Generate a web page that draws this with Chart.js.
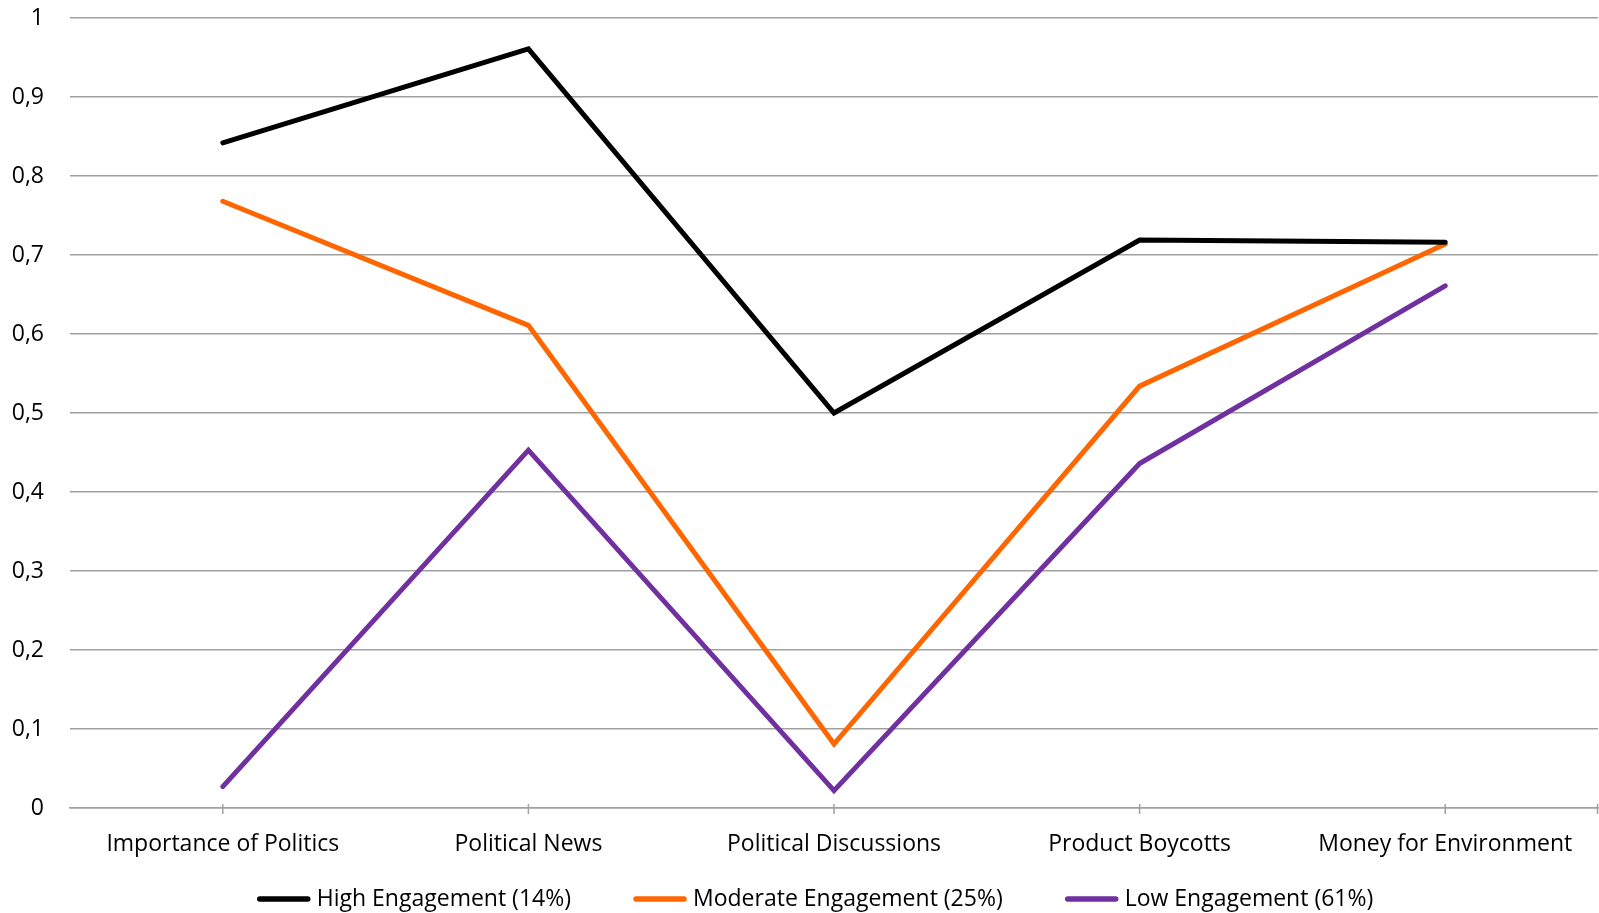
<!DOCTYPE html>
<html>
<head>
<meta charset="utf-8">
<script src="https://cdn.jsdelivr.net/npm/chart.js@4.4.1/dist/chart.umd.min.js"></script>
<style>
  html, body { margin: 0; padding: 0; background: #ffffff; }
  #wrap { width: 1599px; height: 913px; position: relative; }
</style>
</head>
<body>
<div id="wrap"><canvas id="chart"></canvas></div>
<script>
// Categories along the x axis
const categories = [
  'Importance of Politics',
  'Political News',
  'Political Discussions',
  'Product Boycotts',
  'Money for Environment'
];

// Series names
const seriesLabels = [
  'High Engagement (14%)',
  'Moderate Engagement (25%)',
  'Low Engagement (61%)'
];

// Series values
const highEngagement     = [0.842, 0.961, 0.500, 0.719, 0.716];
const moderateEngagement = [0.768, 0.611, 0.081, 0.534, 0.714];
const lowEngagement      = [0.027, 0.453, 0.022, 0.436, 0.661];

// Value axis range and step
const yMin = 0;
const yMax = 1;
const yStep = 0.1;

const seriesColors = ['#000000', '#FF6600', '#7030A0'];
const FONT = '"Open Sans", Lato, sans-serif';
const FONT_SIZE = 23;
const GRID = '#a0a0a0';

// Tick marks on the category axis: one at each category plus the right edge
const categoryTicks = {
  id: 'categoryTicks',
  afterDraw(chart) {
    const { ctx, chartArea } = chart;
    const x = chart.scales.x;
    const y0 = chartArea.bottom;
    ctx.save();
    ctx.strokeStyle = GRID;
    ctx.lineWidth = 1.5;
    ctx.beginPath();
    const xs = categories.map((_, i) => x.getPixelForValue(i));
    xs.push(chartArea.right - 0.5);
    xs.forEach(px => {
      ctx.moveTo(px, y0 - 4);
      ctx.lineTo(px, y0 + 6);
    });
    ctx.stroke();
    ctx.restore();
  }
};

// Legend row drawn under the category labels
const bottomLegend = {
  id: 'bottomLegend',
  afterDraw(chart) {
    const { ctx } = chart;
    const sample = 54, gap = 6, spacing = 62;
    const cy = 899;
    const centerX = 815;
    ctx.save();
    ctx.font = FONT_SIZE + 'px ' + FONT;
    ctx.textBaseline = 'middle';
    const items = chart.data.datasets.map(ds => ({
      label: ds.label, color: ds.borderColor, w: ctx.measureText(ds.label).width
    }));
    let total = 0;
    items.forEach((it, i) => {
      total += sample + gap + it.w + (i < items.length - 1 ? spacing : 0);
    });
    let x = centerX - total / 2;
    items.forEach(it => {
      ctx.strokeStyle = it.color;
      ctx.lineWidth = 5.5;
      ctx.lineCap = 'round';
      ctx.beginPath();
      ctx.moveTo(x + 3, cy);
      ctx.lineTo(x + sample - 3, cy);
      ctx.stroke();
      ctx.fillStyle = '#000000';
      ctx.fillText(it.label, x + sample + gap, cy);
      x += sample + gap + it.w + spacing;
    });
    ctx.restore();
  }
};

const seriesValues = [highEngagement, moderateEngagement, lowEngagement];

new Chart(document.getElementById('chart'), {
  type: 'line',
  data: {
    labels: categories,
    datasets: seriesValues.map((vals, i) => ({
      label: seriesLabels[i],
      data: vals,
      borderColor: seriesColors[i],
      backgroundColor: seriesColors[i],
      borderWidth: 5,
      borderCapStyle: 'round',
      borderJoinStyle: 'miter',
      pointRadius: 0,
      pointHoverRadius: 0,
      tension: 0,
      fill: false
    }))
  },
  options: {
    responsive: true,
    maintainAspectRatio: false,
    animation: false,
    layout: { padding: { top: 18, right: 1, bottom: 29, left: 0 } },
    plugins: {
      legend: { display: false },
      tooltip: { enabled: false }
    },
    scales: {
      x: {
        type: 'category',
        offset: true,
        grid: { display: false },
        border: { display: true, color: GRID, width: 1.5 },
        ticks: {
          color: '#000000',
          font: { family: FONT, size: FONT_SIZE },
          padding: 15,
          maxRotation: 0,
          autoSkip: false
        },
        afterFit(scale) { scale.height = 76; }
      },
      y: {
        min: yMin,
        max: yMax,
        grid: { color: GRID, lineWidth: 1.5, drawTicks: false },
        border: { display: false },
        ticks: {
          stepSize: yStep,
          color: '#000000',
          font: { family: FONT, size: FONT_SIZE },
          padding: 26,
          callback: v => String(Math.round(v * 10) / 10).replace('.', ',')
        },
        afterFit(scale) {
          scale.width = 70;
          scale.paddingTop = 0;
          scale.paddingBottom = 0;
        }
      }
    }
  },
  plugins: [categoryTicks, bottomLegend]
});
</script>
</body>
</html>
